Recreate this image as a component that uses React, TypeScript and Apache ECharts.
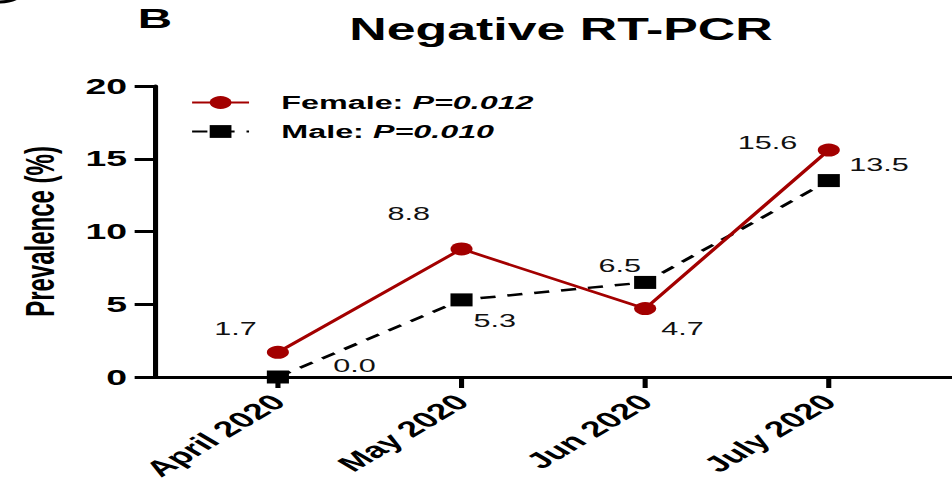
import React, { useEffect, useRef } from "react";
import * as echarts from "echarts";

const categories = ["April 2020", "May 2020", "Jun 2020", "July 2020"];
const femaleValues = [1.7, 8.8, 4.7, 15.6];
const maleValues = [0.0, 5.3, 6.5, 13.5];
const seriesNames = ["Female", "Male"];
const pValues = ["0.012", "0.010"];
const yMin = 0;
const yMax = 20;
const yInterval = 5;

// label placement (offsets from each point, in chart units)
const femaleLabelOffsets = [[-25, -24], [-31, -35], [22, 20], [-36, -7]];
const maleLabelOffsets = [[45, -11], [19.5, 21], [-15, -17], [29.5, -16.5]];

const FONT = "'Liberation Sans', Arial, Helvetica, sans-serif";
const STRETCH = 1.7;
const W = 952 / STRETCH;
const H = 487;

export default function App() {
  const ref = useRef<HTMLDivElement>(null);

  useEffect(() => {
    if (!ref.current) return;
    const chart = echarts.init(ref.current, null, { renderer: "svg", width: W, height: H });
    const catIdx = categories.map((_, i) => i);
    const mk = (vals: number[], offs: number[][]) =>
      vals.map((v, i) => ({ value: [i, v], label: { offset: offs[i] } }));

    const labelCommon = {
      show: true,
      position: "inside",
      fontSize: 18,
      fontFamily: FONT,
      color: "#111",
      formatter: (p: any) => Number(p.value[1]).toFixed(1),
    };

    chart.setOption({
      animation: false,
      backgroundColor: "#fff",
      title: {
        text: "Negative RT-PCR",
        left: 330,
        top: 14,
        textAlign: "center",
        padding: 0,
        textStyle: { fontSize: 30.5, fontWeight: "bold", fontFamily: FONT, color: "#000" },
      },
      graphic: [
        {
          type: "text",
          x: 81,
          y: 4,
          style: { text: "B", fontSize: 28, fontWeight: "bold", fontFamily: FONT, fill: "#000", verticalAlign: "top" },
        },
        {
          type: "arc",
          shape: { cx: 0, cy: -12, r: 14, startAngle: 0, endAngle: Math.PI },
          style: { stroke: "#000", lineWidth: 3, fill: "none" },
        },
      ],
      legend: {
        orient: "vertical",
        left: 112,
        top: 93,
        padding: 0,
        itemWidth: 33.5,
        itemHeight: 16,
        itemGap: 10,
        data: seriesNames,
        formatter: (name: string) => {
          const i = seriesNames.indexOf(name);
          return `{b|${name}: }{i|P=${pValues[i]}}`;
        },
        textStyle: {
          rich: {
            b: { fontSize: 19, fontWeight: "bold", fontFamily: FONT, color: "#000", padding: [0, 0, 0, 14], lineHeight: 20 },
            i: { fontSize: 19, fontWeight: "bold", fontStyle: "italic", fontFamily: FONT, color: "#000", lineHeight: 20 },
          },
        },
      },
      grid: { left: 91.2, right: 0, top: 86, bottom: 110, outerBoundsMode: "none", containLabel: false },
      xAxis: {
        type: "value",
        min: -0.669,
        max: 3.671,
        splitLine: { show: false },
        axisLine: { show: true, onZero: false, lineStyle: { color: "#000", width: 3 } },
        axisTick: { show: true, length: 11, customValues: catIdx, lineStyle: { color: "#000", width: 3 } },
        axisLabel: {
          customValues: catIdx,
          formatter: (v: number) => categories[Math.round(v)] ?? "",
          rotate: 45,
          margin: 21,
          fontSize: 22,
          fontWeight: "bold",
          fontFamily: FONT,
          color: "#000",
          hideOverlap: false,
        },
      },
      yAxis: {
        type: "value",
        min: yMin,
        max: yMax,
        interval: yInterval,
        name: "Prevalence (%)",
        nameLocation: "middle",
        nameRotate: 90,
        nameGap: 55.5,
        nameTextStyle: { fontSize: 24, fontWeight: "bold", fontFamily: FONT, color: "#000" },
        splitLine: { show: false },
        axisLine: { show: true, onZero: false, lineStyle: { color: "#000", width: 3 } },
        axisTick: { show: true, length: 12, lineStyle: { color: "#000", width: 3 } },
        axisLabel: { margin: 16.5, fontSize: 22, fontWeight: "bold", fontFamily: FONT, color: "#000" },
      },
      series: [
        {
          name: seriesNames[0],
          type: "line",
          z: 3,
          symbol: "circle",
          symbolSize: 13,
          itemStyle: { color: "#a30000" },
          lineStyle: { color: "#a30000", width: 2.5 },
          label: labelCommon,
          data: mk(femaleValues, femaleLabelOffsets),
        },
        {
          name: seriesNames[1],
          type: "line",
          z: 2,
          symbol: "rect",
          symbolSize: 13,
          itemStyle: { color: "#000" },
          lineStyle: { color: "#000", width: 2.5, type: [9, 7] },
          label: labelCommon,
          data: mk(maleValues, maleLabelOffsets),
        },
      ],
    });
    return () => chart.dispose();
  }, []);

  return (
    <div style={{ position: "absolute", left: 0, top: 0, width: 952, height: 487, overflow: "hidden", background: "#fff" }}>
      <div
        ref={ref}
        style={{ width: W, height: H, transform: `scaleX(${STRETCH})`, transformOrigin: "0 0" }}
      />
    </div>
  );
}
